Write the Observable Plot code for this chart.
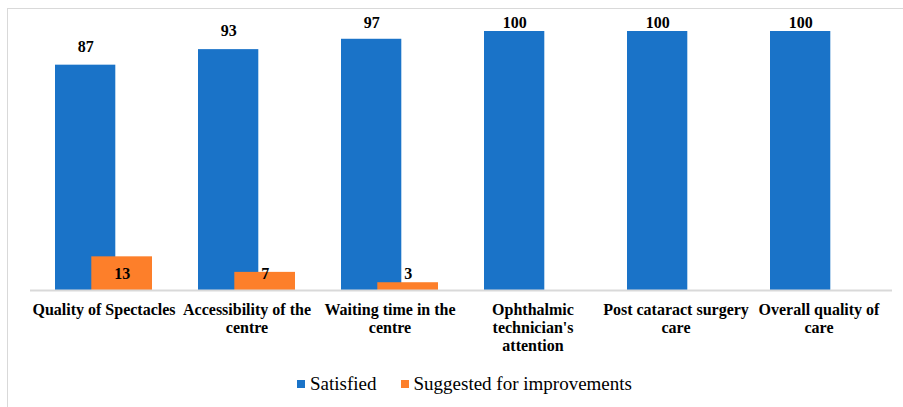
<!DOCTYPE html>
<html>
<head>
<meta charset="utf-8">
<script src="https://cdn.jsdelivr.net/npm/d3@7"></script>
<script src="https://cdn.jsdelivr.net/npm/@observablehq/plot@0.6"></script>
<style>
  html, body { margin: 0; padding: 0; background: #fff; }
  #wrap { position: relative; width: 903px; height: 407px; overflow: hidden; font-family: "Liberation Serif", "Times New Roman", serif; }
  #frame { position: absolute; left: 7px; top: 8px; width: 910px; height: 410px; border: 1.5px solid #d9d9d9; box-sizing: border-box; }
  #chart { position: absolute; left: 0; top: 0; }
  #legend { position: absolute; left: 0; top: 372px; width: 903px; height: 24px; display: flex; justify-content: center; align-items: center; padding-left: 26px; box-sizing: border-box; font-size: 19px; color: #000; }
  .item { display: flex; align-items: center; }
  .sw { width: 8px; height: 8px; margin-right: 5px; }
</style>
</head>
<body>
<div id="wrap">
  <div id="frame"></div>
  <div id="chart"></div>
  <div id="legend"></div>
</div>
<script>
const categories = ["Quality of Spectacles", "Accessibility of the centre", "Waiting time in the centre", "Ophthalmic technician's attention", "Post cataract surgery care", "Overall quality of care"];
const tickLabels = ["Quality of Spectacles", "Accessibility of the\ncentre", "Waiting time in the\ncentre", "Ophthalmic\ntechnician's\nattention", "Post cataract surgery\ncare", "Overall quality of\ncare"];
const seriesNames = ["Satisfied", "Suggested for improvements"];
const seriesColors = ["#1a73c8", "#fd7f2a"];
const satisfied = [87, 93, 97, 100, 100, 100];
const suggested = [13, 7, 3, 0, 0, 0];

const sat = categories.map((c, i) => ({category: c, value: satisfied[i]}));
const sug = categories.map((c, i) => ({category: c, value: suggested[i]})).filter(d => d.value > 0);

const chart = Plot.plot({
  width: 903,
  height: 360,
  marginLeft: 30,
  marginRight: 11,
  marginTop: 31,
  marginBottom: 70,
  style: {fontFamily: "'Liberation Serif', 'Times New Roman', serif", background: "transparent", color: "#000"},
  x: {domain: categories, padding: 0, axis: null},
  y: {domain: [0, 100], axis: null},
  marks: [
    Plot.barY(sat, {x: "category", y: "value", fill: seriesColors[0], insetLeft: 23, insetRight: 59.7}),
    Plot.barY(sug, {x: "category", y: "value", fill: seriesColors[1], insetLeft: 59.3, insetRight: 23}),
    Plot.ruleY([0], {stroke: "#d9d9d9", strokeWidth: 2}),
    Plot.text(sat, {x: "category", y: d => Math.min(d.value + 7.1, 103.5), text: "value", dx: -18.3, fontSize: 16, fontWeight: "bold", fill: "#000"}),
    Plot.text(sug, {x: "category", y: d => Math.max(d.value / 2, 6.5), text: "value", dx: 18.3, fontSize: 16, fontWeight: "bold", fill: "#000"}),
    Plot.axisX({tickSize: 0, tickPadding: 12, fontSize: 16, fontWeight: "bold", lineHeight: 1.125, label: null,
      tickFormat: d => tickLabels[categories.indexOf(d)], fill: "#000"})
  ]
});
document.getElementById("chart").appendChild(chart);

const legend = document.getElementById("legend");
seriesNames.forEach((name, i) => {
  const item = document.createElement("div");
  item.className = "item";
  if (i > 0) item.style.marginLeft = "24px";
  const sw = document.createElement("div");
  sw.className = "sw";
  sw.style.background = seriesColors[i];
  const t = document.createElement("span");
  t.textContent = name;
  item.appendChild(sw);
  item.appendChild(t);
  legend.appendChild(item);
});
</script>
</body>
</html>
